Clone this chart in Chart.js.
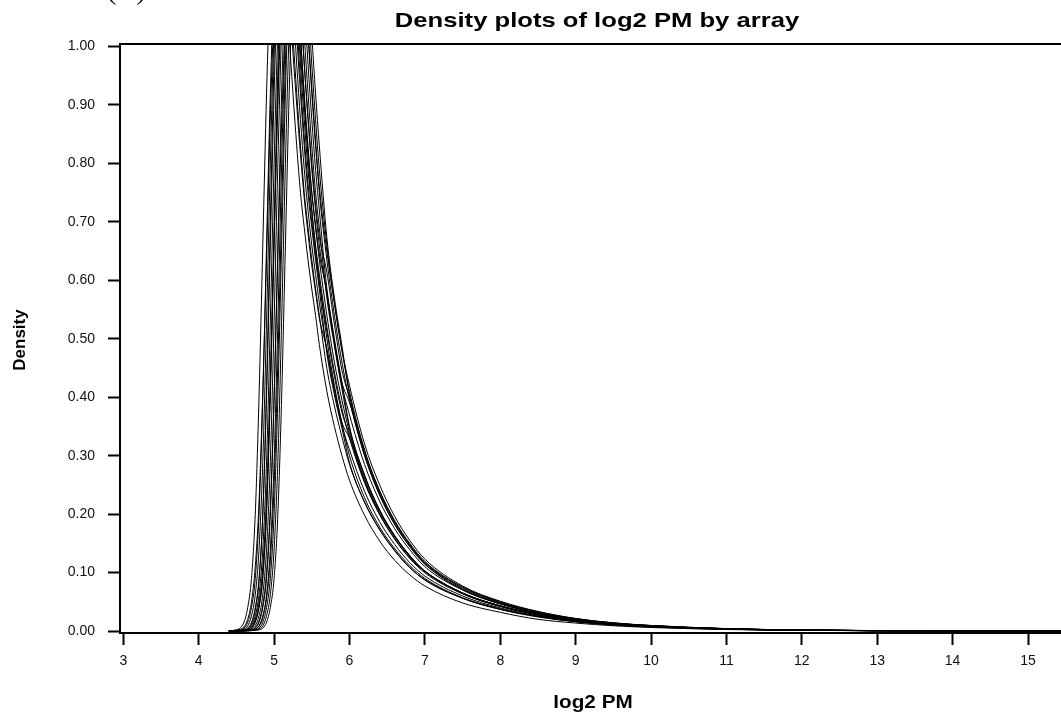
<!DOCTYPE html>
<html>
<head>
<meta charset="utf-8">
<script src="https://cdn.jsdelivr.net/npm/chart.js@4.4.1/dist/chart.umd.min.js"></script>
<style>
  html, body { margin: 0; padding: 0; background: #fff; overflow: hidden; }
  #wrap { width: 1075px; height: 714px; }
</style>
</head>
<body>
<div id="wrap"><canvas id="densityChart" width="1075" height="714"></canvas></div>
<script>
// log2 PM grid shared by every array
var log2pm = [4.4, 4.5, 4.6, 4.65, 4.7, 4.75, 4.8, 4.85, 4.9, 4.95, 5.0, 5.05, 5.1, 5.15, 5.2, 5.25,
  5.3, 5.35, 5.4, 5.45, 5.5, 5.55, 5.6, 5.7, 5.8, 5.9, 6.0, 6.2, 6.4, 6.6, 6.8, 7.0, 7.5, 8.0,
  8.5, 9.0, 9.5, 10, 11, 12, 13, 14, 15.5];

// density estimates, one per array
var array01 = [0.0006, 0.002, 0.015, 0.04, 0.09, 0.20, 0.40, 0.66, 0.92, 1.12, 1.24, 1.28, 1.24, 1.14, 1.02, 0.92, 0.83, 0.75, 0.69, 0.635, 0.585, 0.54, 0.49, 0.41, 0.35, 0.30, 0.258, 0.198, 0.154, 0.121, 0.096, 0.077, 0.048, 0.032, 0.020, 0.0136, 0.009, 0.006, 0.0026, 0.0011, 0.0004, 0.0002, 0];
var array02 = [0.0003, 0.001, 0.005, 0.015, 0.04, 0.09, 0.20, 0.40, 0.66, 0.92, 1.12, 1.24, 1.28, 1.24, 1.14, 1.02, 0.92, 0.83, 0.75, 0.69, 0.635, 0.585, 0.54, 0.449, 0.385, 0.332, 0.285, 0.220, 0.173, 0.137, 0.108, 0.088, 0.056, 0.037, 0.025, 0.016, 0.0105, 0.007, 0.003, 0.0013, 0.0005, 0.0002, 0];
var array03 = [0.0005, 0.0015, 0.007, 0.02, 0.05, 0.11, 0.22, 0.41, 0.64, 0.88, 1.06, 1.17, 1.21, 1.18, 1.10, 0.99, 0.90, 0.815, 0.74, 0.68, 0.625, 0.58, 0.535, 0.483, 0.415, 0.357, 0.33, 0.255, 0.200, 0.158, 0.125, 0.102, 0.065, 0.043, 0.029, 0.019, 0.012, 0.0083, 0.0035, 0.0015, 0.0006, 0.0002, 0];
var array04 = [0.0001, 0.0006, 0.002, 0.005, 0.015, 0.04, 0.09, 0.20, 0.40, 0.66, 0.92, 1.12, 1.24, 1.28, 1.24, 1.14, 1.02, 0.92, 0.83, 0.75, 0.69, 0.635, 0.585, 0.475, 0.404, 0.347, 0.288, 0.221, 0.174, 0.138, 0.109, 0.087, 0.056, 0.037, 0.024, 0.0158, 0.0104, 0.007, 0.003, 0.0013, 0.0005, 0.0003, 0];
var array05 = [0.0001, 0.0005, 0.0015, 0.004, 0.012, 0.035, 0.085, 0.20, 0.42, 0.70, 0.98, 1.19, 1.31, 1.35, 1.30, 1.18, 1.05, 0.94, 0.845, 0.765, 0.70, 0.645, 0.595, 0.513, 0.436, 0.374, 0.336, 0.258, 0.203, 0.161, 0.127, 0.102, 0.065, 0.043, 0.028, 0.0184, 0.012, 0.0082, 0.0036, 0.0015, 0.0006, 0.0003, 0];
var array06 = [0, 0.0003, 0.001, 0.002, 0.005, 0.015, 0.04, 0.09, 0.20, 0.40, 0.66, 0.92, 1.12, 1.24, 1.28, 1.24, 1.14, 1.02, 0.92, 0.83, 0.75, 0.69, 0.635, 0.54, 0.46, 0.395, 0.34, 0.262, 0.205, 0.162, 0.128, 0.102, 0.065, 0.043, 0.028, 0.018, 0.012, 0.008, 0.0035, 0.0015, 0.0006, 0.0003, 0];
var array07 = [0, 0.0004, 0.0012, 0.003, 0.007, 0.02, 0.05, 0.11, 0.23, 0.43, 0.67, 0.90, 1.08, 1.19, 1.22, 1.18, 1.09, 0.99, 0.90, 0.82, 0.75, 0.695, 0.645, 0.58, 0.495, 0.425, 0.391, 0.301, 0.236, 0.186, 0.147, 0.117, 0.075, 0.049, 0.032, 0.021, 0.0138, 0.0092, 0.004, 0.0017, 0.0007, 0.0003, 0];
var array08 = [0, 0.0001, 0.0006, 0.001, 0.002, 0.005, 0.015, 0.04, 0.09, 0.20, 0.40, 0.66, 0.92, 1.12, 1.24, 1.28, 1.24, 1.14, 1.02, 0.92, 0.83, 0.75, 0.69, 0.570, 0.488, 0.414, 0.347, 0.266, 0.207, 0.163, 0.129, 0.103, 0.065, 0.043, 0.0285, 0.018, 0.0119, 0.0081, 0.0035, 0.0015, 0.0007, 0.0003, 0];
var array09 = [0, 0.0001, 0.0005, 0.001, 0.002, 0.006, 0.017, 0.045, 0.10, 0.21, 0.40, 0.64, 0.87, 1.04, 1.14, 1.18, 1.15, 1.07, 0.97, 0.88, 0.80, 0.73, 0.675, 0.614, 0.525, 0.446, 0.40, 0.308, 0.240, 0.189, 0.150, 0.119, 0.075, 0.050, 0.033, 0.021, 0.0138, 0.0094, 0.0041, 0.0018, 0.0008, 0.0003, 0];
var array10 = [0, 0, 0.0003, 0.0006, 0.001, 0.002, 0.005, 0.015, 0.04, 0.09, 0.20, 0.40, 0.66, 0.92, 1.12, 1.24, 1.28, 1.24, 1.14, 1.02, 0.92, 0.83, 0.75, 0.635, 0.54, 0.46, 0.395, 0.30, 0.232, 0.182, 0.144, 0.114, 0.071, 0.047, 0.031, 0.020, 0.013, 0.0088, 0.0038, 0.0016, 0.0007, 0.0003, 0];
var array11 = [0, 0, 0.0002, 0.0005, 0.001, 0.003, 0.008, 0.022, 0.055, 0.12, 0.25, 0.46, 0.72, 0.97, 1.16, 1.27, 1.30, 1.25, 1.15, 1.03, 0.93, 0.84, 0.76, 0.65, 0.56, 0.48, 0.42, 0.32, 0.25, 0.196, 0.155, 0.123, 0.077, 0.051, 0.0335, 0.0215, 0.014, 0.0095, 0.0041, 0.0017, 0.0008, 0.0003, 0];
var array12 = [0, 0, 0, 0.0003, 0.0006, 0.001, 0.002, 0.005, 0.015, 0.04, 0.09, 0.20, 0.40, 0.66, 0.92, 1.12, 1.24, 1.28, 1.24, 1.14, 1.02, 0.92, 0.83, 0.673, 0.570, 0.488, 0.404, 0.304, 0.234, 0.183, 0.145, 0.115, 0.071, 0.047, 0.030, 0.020, 0.013, 0.0088, 0.0038, 0.0016, 0.0007, 0.0003, 0];
var array13 = [0.0001, 0.0004, 0.0015, 0.0035, 0.009, 0.026, 0.062, 0.14, 0.29, 0.53, 0.80, 1.03, 1.19, 1.27, 1.27, 1.20, 1.08, 0.97, 0.875, 0.79, 0.72, 0.66, 0.61, 0.52, 0.443, 0.38, 0.33, 0.254, 0.199, 0.157, 0.124, 0.0995, 0.0635, 0.042, 0.0275, 0.0177, 0.0118, 0.0079, 0.0034, 0.0014, 0.0006, 0.0003, 0];
var array14 = [0, 0.0002, 0.0008, 0.0015, 0.0035, 0.009, 0.026, 0.062, 0.14, 0.29, 0.53, 0.80, 1.03, 1.19, 1.27, 1.27, 1.20, 1.08, 0.97, 0.875, 0.79, 0.72, 0.66, 0.576, 0.492, 0.42, 0.37, 0.285, 0.222, 0.175, 0.139, 0.11, 0.07, 0.046, 0.030, 0.0194, 0.0128, 0.0086, 0.0038, 0.0016, 0.0006, 0.0003, 0];
var array15 = [0, 0, 0.0004, 0.0008, 0.0015, 0.0035, 0.009, 0.026, 0.062, 0.14, 0.29, 0.53, 0.80, 1.03, 1.19, 1.27, 1.27, 1.20, 1.08, 0.97, 0.875, 0.79, 0.72, 0.586, 0.50, 0.425, 0.35, 0.267, 0.207, 0.163, 0.129, 0.102, 0.064, 0.042, 0.0276, 0.018, 0.012, 0.008, 0.0035, 0.0015, 0.0006, 0.0003, 0];
var array16 = [0.0002, 0.0008, 0.0035, 0.009, 0.026, 0.062, 0.14, 0.29, 0.53, 0.80, 1.03, 1.19, 1.27, 1.27, 1.20, 1.08, 0.97, 0.875, 0.79, 0.72, 0.66, 0.61, 0.562, 0.48, 0.41, 0.352, 0.31, 0.239, 0.187, 0.148, 0.117, 0.094, 0.06, 0.0395, 0.026, 0.017, 0.0113, 0.0076, 0.0033, 0.0014, 0.0006, 0.0003, 0];
var array17 = [0, 0, 0.0002, 0.0004, 0.0008, 0.0015, 0.0035, 0.009, 0.026, 0.062, 0.14, 0.29, 0.53, 0.80, 1.03, 1.19, 1.27, 1.27, 1.20, 1.08, 0.97, 0.875, 0.79, 0.66, 0.562, 0.48, 0.41, 0.31, 0.239, 0.187, 0.148, 0.117, 0.073, 0.048, 0.031, 0.020, 0.0133, 0.009, 0.0039, 0.0016, 0.0007, 0.0003, 0];
var array18 = [0, 0.0003, 0.001, 0.002, 0.005, 0.016, 0.042, 0.095, 0.21, 0.42, 0.69, 0.96, 1.17, 1.29, 1.32, 1.27, 1.15, 1.02, 0.91, 0.81, 0.72, 0.655, 0.60, 0.50, 0.42, 0.355, 0.30, 0.228, 0.178, 0.141, 0.112, 0.09, 0.057, 0.038, 0.025, 0.016, 0.0106, 0.007, 0.0031, 0.0013, 0.0005, 0.0002, 0];

var arrays = [array01, array02, array03, array04, array05, array06, array07, array08, array09,
  array10, array11, array12, array13, array14, array15, array16, array17, array18];

var xTicks = [3, 4, 5, 6, 7, 8, 9, 10, 11, 12, 13, 14, 15];
var yTicks = [0, 0.1, 0.2, 0.3, 0.4, 0.5, 0.6, 0.7, 0.8, 0.9, 1.0];

var FONT = '"Liberation Sans", Arial, Helvetica, sans-serif';

var datasets = arrays.map(function (vals, i) {
  return {
    label: 'array ' + (i + 1),
    data: vals.map(function (v, j) { return { x: log2pm[j], y: v }; }),
    borderColor: '#000',
    borderWidth: 1,
    pointRadius: 0,
    fill: false,
    cubicInterpolationMode: 'monotone'
  };
});

// title, axis titles, box top and panel letter
var decorations = {
  id: 'decorations',
  afterDraw: function (chart) {
    var ctx = chart.ctx, a = chart.chartArea;
    ctx.save();
    ctx.strokeStyle = '#000';
    ctx.lineWidth = 2;
    ctx.beginPath();
    ctx.moveTo(a.left, a.top);
    ctx.lineTo(a.right, a.top);
    ctx.stroke();

    ctx.fillStyle = '#000';
    ctx.textAlign = 'center';
    ctx.textBaseline = 'alphabetic';

    ctx.save();
    ctx.translate(597, 27);
    ctx.scale(1.22, 1);
    ctx.font = 'bold 21px ' + FONT;
    ctx.fillText('Density plots of log2 PM by array', 0, 0);
    ctx.restore();

    ctx.save();
    ctx.translate(593, 708);
    ctx.scale(1.15, 1);
    ctx.font = 'bold 18px ' + FONT;
    ctx.fillText('log2 PM', 0, 0);
    ctx.restore();

    ctx.save();
    ctx.translate(25, 340);
    ctx.rotate(-Math.PI / 2);
    ctx.font = 'bold 17px ' + FONT;
    ctx.fillText('Density', 0, 0);
    ctx.restore();

    ctx.textAlign = 'left';
    ctx.font = '28px "Liberation Serif", "Times New Roman", serif';
    ctx.fillText('(A)', 107, -1);
    ctx.restore();
  }
};

var ctx = document.getElementById('densityChart').getContext('2d');
var densityChart = new Chart(ctx, {
  type: 'line',
  data: { datasets: datasets },
  options: {
    responsive: false,
    animation: false,
    devicePixelRatio: 1,
    layout: { padding: { top: 44, right: 5, left: 0, bottom: 0 } },
    plugins: {
      legend: { display: false },
      tooltip: { enabled: false },
      title: { display: false }
    },
    scales: {
      x: {
        type: 'linear',
        min: 2.956,
        max: 15.557,
        afterFit: function (s) { s.height = 81; },
        afterBuildTicks: function (s) { s.ticks = xTicks.map(function (v) { return { value: v }; }); },
        grid: { drawOnChartArea: false, drawTicks: true, tickLength: 12, tickWidth: 2, tickColor: '#000', color: '#000' },
        border: { display: true, color: '#000', width: 2 },
        ticks: {
          autoSkip: false, maxRotation: 0, padding: 8, color: '#111',
          font: { family: FONT, size: 14 },
          callback: function (v) { return String(v); }
        }
      },
      y: {
        min: -0.0034,
        max: 1.0043,
        afterFit: function (s) { s.width = 120; },
        afterBuildTicks: function (s) { s.ticks = yTicks.map(function (v) { return { value: v }; }); },
        grid: { drawOnChartArea: false, drawTicks: true, tickLength: 12, tickWidth: 2, tickColor: '#000', color: '#000' },
        border: { display: true, color: '#000', width: 2 },
        ticks: {
          autoSkip: false, padding: 13, color: '#111',
          font: { family: FONT, size: 14 },
          callback: function (v) { return Number(v).toFixed(2); }
        }
      }
    }
  },
  plugins: [decorations]
});
</script>
</body>
</html>
